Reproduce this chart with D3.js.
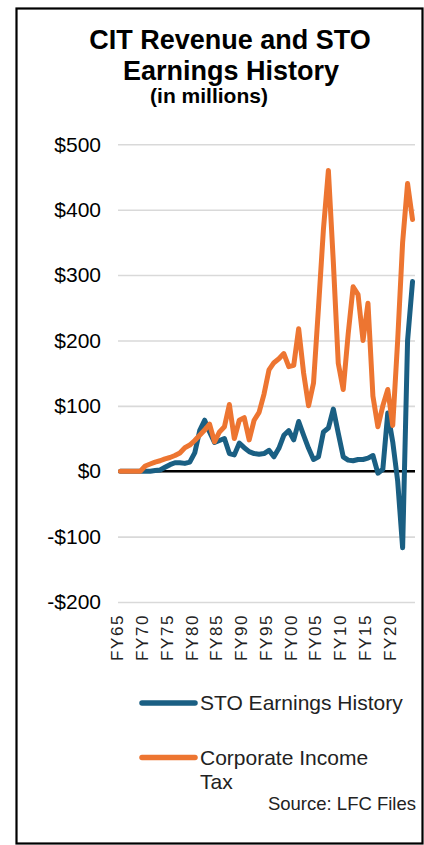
<!DOCTYPE html>
<html>
<head>
<meta charset="utf-8">
<script src="https://cdn.jsdelivr.net/npm/d3@7"></script>
<style>
    body { margin: 0; background: #fff; }
    svg { display: block; font-family: 'Liberation Sans', Arial, sans-serif; }
</style>
</head>
<body>
<div id="chart"></div>
<script>
var fiscalYears = [
    'FY65', 'FY66', 'FY67', 'FY68', 'FY69', 'FY70', 'FY71', 'FY72', 'FY73', 'FY74',
    'FY75', 'FY76', 'FY77', 'FY78', 'FY79', 'FY80', 'FY81', 'FY82', 'FY83', 'FY84',
    'FY85', 'FY86', 'FY87', 'FY88', 'FY89', 'FY90', 'FY91', 'FY92', 'FY93', 'FY94',
    'FY95', 'FY96', 'FY97', 'FY98', 'FY99', 'FY00', 'FY01', 'FY02', 'FY03', 'FY04',
    'FY05', 'FY06', 'FY07', 'FY08', 'FY09', 'FY10', 'FY11', 'FY12', 'FY13', 'FY14',
    'FY15', 'FY16', 'FY17', 'FY18', 'FY19', 'FY20', 'FY21', 'FY22', 'FY23', 'FY24'
];

// $ millions
var stoEarnings = [
    0, 0, 0, 0, 0, 0, 0, 1, 2, 6,
    10, 13, 13, 12, 14, 28, 62, 78, 60, 44,
    47, 50, 27, 25, 43, 36, 30, 27, 26, 27,
    32, 22, 35, 55, 62, 48, 76, 55, 35, 18,
    22, 60, 66, 95, 58, 22, 17, 16, 18, 18,
    20, 24, -3, 3, 89, 45, -15, -117, 200, 290
];

var citRevenue = [
    0, 0, 0, 0, 0, 8, 11, 14, 16, 19,
    21, 24, 28, 36, 40, 47, 55, 63, 72, 45,
    60, 68, 102, 50, 78, 82, 48, 78, 90, 118,
    155, 166, 172, 180, 160, 162, 218, 150, 100, 135,
    250, 370, 460, 320, 165, 125, 210, 282, 270, 200,
    257, 115, 68, 100, 125, 70, 200, 350, 440, 385
];

var yTicks = [-200, -100, 0, 100, 200, 300, 400, 500];
var xTickLabels = ['FY65', 'FY70', 'FY75', 'FY80', 'FY85', 'FY90', 'FY95', 'FY00', 'FY05', 'FY10', 'FY15', 'FY20'];

var series = [
    { name: 'STO Earnings History', values: stoEarnings, colour: '#1a5f83' },
    { name: 'Corporate Income Tax', values: citRevenue, colour: '#ed7531' }
];

var width = 424, height = 845;
var plot = { left: 118, right: 415, top: 144.3, bottom: 602 };

var svg = d3.select('#chart')
    .append('svg')
    .attr('width', width)
    .attr('height', height);

// frame
svg.append('rect')
    .attr('x', 16.5)
    .attr('y', 8.5)
    .attr('width', 406)
    .attr('height', 835)
    .attr('fill', 'none')
    .attr('stroke', '#000')
    .attr('stroke-width', 2.2);

// title
var title = svg.append('g').attr('font-weight', 'bold').attr('text-anchor', 'middle').attr('fill', '#000');
title.append('text').attr('x', 230).attr('y', 49).attr('font-size', 27).text('CIT Revenue and STO');
title.append('text').attr('x', 231).attr('y', 80).attr('font-size', 27).text('Earnings History');
title.append('text').attr('x', 209).attr('y', 103).attr('font-size', 21).text('(in millions)');

var x = d3.scaleBand()
    .domain(fiscalYears)
    .range([plot.left, plot.right]);

function cx(d) {
    return x(d) + x.bandwidth() / 2;
}

var y = d3.scaleLinear()
    .domain([-200, 500])
    .range([plot.bottom, plot.top]);

function money(v) {
    return (v < 0 ? '-$' : '$') + Math.abs(v);
}

// y axis + gridlines
var yAxis = svg.append('g')
    .attr('transform', 'translate(' + plot.left + ',0)')
    .call(d3.axisLeft(y)
        .tickValues(yTicks)
        .tickSize(-(plot.right - plot.left))
        .tickPadding(17)
        .tickFormat(money));

yAxis.select('.domain').remove();
yAxis.selectAll('line')
    .attr('stroke', '#d9d9d9')
    .attr('stroke-width', 1.6);
yAxis.selectAll('text')
    .attr('font-size', 21)
    .attr('font-family', 'Liberation Sans, Arial, sans-serif')
    .attr('fill', '#000');

// zero line
svg.append('line')
    .attr('x1', plot.left)
    .attr('x2', plot.right)
    .attr('y1', y(0))
    .attr('y2', y(0))
    .attr('stroke', '#000')
    .attr('stroke-width', 2.4);

// x axis, labels turned up
var xAxis = svg.append('g')
    .attr('transform', 'translate(0,614)')
    .call(d3.axisBottom(x).tickValues(xTickLabels).tickSize(0));

xAxis.select('.domain').remove();
xAxis.selectAll('text')
    .attr('font-size', 17)
    .attr('font-family', 'Liberation Sans, Arial, sans-serif')
    .attr('letter-spacing', 1.6)
    .attr('fill', '#222')
    .attr('text-anchor', 'end')
    .attr('transform', 'rotate(-90)')
    .attr('x', 0)
    .attr('y', 0)
    .attr('dy', '0.17em');

// lines
var line = d3.line()
    .x(function(d, i) { return cx(fiscalYears[i]); })
    .y(function(d) { return y(d); });

svg.append('g')
    .selectAll('path')
    .data(series)
    .enter()
    .append('path')
    .attr('d', function(d) { return line(d.values); })
    .attr('fill', 'none')
    .attr('stroke', function(d) { return d.colour; })
    .attr('stroke-width', 5)
    .attr('stroke-linejoin', 'round')
    .attr('stroke-linecap', 'round');

// legend
var legendY = [703, 757.5];
var legend = svg.append('g')
    .selectAll('g')
    .data(series)
    .enter()
    .append('g')
    .attr('transform', function(d, i) { return 'translate(0,' + legendY[i] + ')'; });

legend.append('line')
    .attr('x1', 142)
    .attr('x2', 195)
    .attr('stroke', function(d) { return d.colour; })
    .attr('stroke-width', 5.5)
    .attr('stroke-linecap', 'round');

legend.append('text')
    .attr('x', 200)
    .attr('font-size', 21)
    .attr('fill', '#222')
    .each(function(d) {
        var words = d.name === 'Corporate Income Tax' ? ['Corporate Income', 'Tax'] : [d.name];
        var t = d3.select(this);
        words.forEach(function(w, k) {
            t.append('tspan')
                .attr('x', 200)
                .attr('y', k * 24)
                .attr('dy', '0.35em')
                .text(w);
        });
    });

svg.append('text')
    .attr('x', 416)
    .attr('y', 810)
    .attr('text-anchor', 'end')
    .attr('font-size', 18.5)
    .attr('fill', '#222')
    .text('Source: LFC Files');
</script>
</body>
</html>
